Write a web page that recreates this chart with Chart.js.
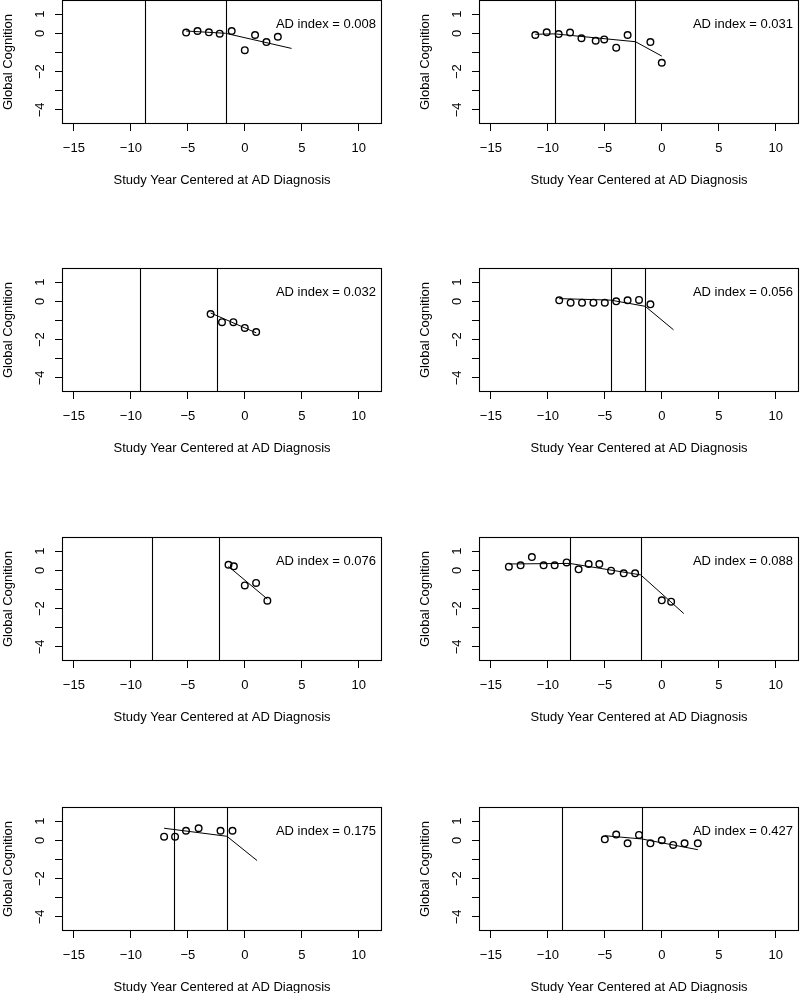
<!DOCTYPE html>
<html><head><meta charset="utf-8">
<script src="https://cdn.jsdelivr.net/npm/chart.js@4.4.1/dist/chart.umd.min.js"></script>
<style>
html,body{margin:0;padding:0;background:#fff;overflow:hidden;width:800px;height:993px;}
#wrap{position:relative;width:800px;height:993px;overflow:hidden;}
canvas{position:absolute;}
</style></head><body><div id="wrap"></div>
<script>
// ---- data ----
const xTicks = [-15, -10, -5, 0, 5, 10];
const xTickLabels = ['\u221215', '\u221210', '\u22125', '0', '5', '10'];
const yTicks = [-4, -3, -2, -1, 0, 1];
const yTickLabels = ['\u22124', '', '\u22122', '', '0', '1'];
const xTitle = 'Study Year Centered at AD Diagnosis';
const yTitle = 'Global Cognition';
const adIndex = ['0.008', '0.031', '0.032', '0.056', '0.076', '0.088', '0.175', '0.427'];

const years1 = [-5.15, -4.15, -3.15, -2.2, -1.15, 0, 0.9, 1.9, 2.9];
const cog1 = [0.04, 0.12, 0.05, -0.02, 0.12, -0.88, -0.09, -0.46, -0.18];
const change1 = [-8.8, -1.69];
const fitX1 = [-5.15, -1.69, 4.1];
const fitY1 = [0.12, 0.0, -0.79];

const years2 = [-11.1, -10.1, -9.05, -8.05, -7.05, -5.8, -5.05, -4.0, -3.0, -1.0, 0];
const cog2 = [-0.09, 0.05, -0.04, 0.04, -0.26, -0.39, -0.32, -0.75, -0.09, -0.46, -1.54];
const change2 = [-9.4, -2.31];
const fitX2 = [-11.1, -9.4, -2.31, 0];
const fitY2 = [-0.05, -0.03, -0.44, -1.19];

const years3 = [-3, -2, -1, 0, 1];
const cog3 = [-0.67, -1.09, -1.09, -1.39, -1.61];
const change3 = [-9.23, -2.42];
const fitX3 = [-3, -2.42, 1];
const fitY3 = [-0.61, -0.76, -1.65];

const years4 = [-9, -8, -7, -6, -5, -4, -3, -2, -1];
const cog4 = [0.05, -0.07, -0.07, -0.07, -0.07, 0, 0.05, 0.07, -0.16];
const change4 = [-4.48, -1.46];
const fitX4 = [-9, -4.48, -1.46, 1.03];
const fitY4 = [0.14, 0.06, -0.26, -1.49];

const years5 = [-1.43, -0.96, 0, 0.99, 1.98];
const cog5 = [0.29, 0.21, -0.79, -0.66, -1.59];
const change5 = [-8.16, -2.3];
const fitX5 = [-1.43, 1.98];
const fitY5 = [0.2, -1.5];

const years6 = [-13.42, -12.39, -11.4, -10.37, -9.4, -8.35, -7.3, -6.42, -5.48, -4.45, -3.34, -2.34, 0, 0.82];
const cog6 = [0.19, 0.26, 0.69, 0.26, 0.26, 0.41, 0.05, 0.33, 0.33, -0.02, -0.16, -0.16, -1.57, -1.64];
const change6 = [-8.09, -1.85];
const fitX6 = [-13.42, -8.09, -1.85, 1.93];
const fitY6 = [0.33, 0.36, -0.24, -2.26];

const years7 = [-7.08, -6.12, -5.16, -4.05, -2.13, -1.08];
const cog7 = [0.19, 0.19, 0.5, 0.63, 0.5, 0.5];
const change7 = [-6.23, -1.57];
const fitX7 = [-7.08, -1.57, 1.08];
const fitY7 = [0.63, 0.21, -1.06];

const years8 = [-5, -4, -3, -2, -1, 0, 1, 2, 3.16];
const cog8 = [0.05, 0.30, -0.16, 0.28, -0.16, 0, -0.24, -0.16, -0.16];
const change8 = [-8.73, -1.76];
const fitX8 = [-5, -1.76, 3.16];
const fitY8 = [0.24, 0.07, -0.49];

// ---- build ----
const panels = [
  [years1, cog1, change1, fitX1, fitY1],
  [years2, cog2, change2, fitX2, fitY2],
  [years3, cog3, change3, fitX3, fitY3],
  [years4, cog4, change4, fitX4, fitY4],
  [years5, cog5, change5, fitX5, fitY5],
  [years6, cog6, change6, fitX6, fitY6],
  [years7, cog7, change7, fitX7, fitY7],
  [years8, cog8, change8, fitX8, fitY8]
];

const FONT = {family: "'Liberation Sans', Arial, Helvetica, sans-serif", size: 13};
const boxLeft = [62, 479];
const boxTop = [0, 268, 537, 807];
const AXW = 62, AXH = 64, PADT = 2, PADR = 2, BOXW = 320, BOXH = 124;

const boxPlugin = {
  id: 'box',
  beforeDatasetsDraw(chart, args, opts) {
    const {ctx, chartArea: a, scales: {x}} = chart;
    ctx.save();
    ctx.strokeStyle = '#000';
    ctx.lineWidth = 1.1;
    (opts.cp || []).forEach(v => {
      const px = Math.round(x.getPixelForValue(v)) + 0.5;
      ctx.beginPath(); ctx.moveTo(px, a.top); ctx.lineTo(px, a.bottom); ctx.stroke();
    });
    ctx.restore();
  },
  afterDraw(chart, args, opts) {
    const {ctx, chartArea: a} = chart;
    ctx.save();
    ctx.strokeStyle = '#000';
    ctx.lineWidth = 1.1;
    ctx.strokeRect(a.left + 0.5, a.top + 0.5, a.width - 1, a.height - 1);
    ctx.fillStyle = '#000';
    ctx.font = FONT.size + 'px ' + FONT.family;
    ctx.textAlign = 'right';
    ctx.textBaseline = 'middle';
    ctx.fillText(opts.label || '', a.right - 6, a.top + 24);
    ctx.restore();
  }
};

const wrap = document.getElementById('wrap');
panels.forEach((p, i) => {
  const [yr, cg, cp, fx, fy] = p;
  const col = i % 2, row = Math.floor(i / 2);
  const W = AXW + BOXW + PADR, H = PADT + BOXH + AXH;
  const cv = document.createElement('canvas');
  cv.width = W; cv.height = H;
  cv.style.width = W + 'px'; cv.style.height = H + 'px';
  cv.style.left = (boxLeft[col] - AXW) + 'px';
  cv.style.top = (boxTop[row] - PADT) + 'px';
  wrap.appendChild(cv);
  new Chart(cv, {
    type: 'scatter',
    data: {
      datasets: [
        {type: 'line', data: fx.map((v, k) => ({x: v, y: fy[k]})), borderColor: '#000', borderWidth: 1,
         pointRadius: 0, fill: false, tension: 0, order: 2},
        {type: 'scatter', data: yr.map((v, k) => ({x: v, y: cg[k]})), pointStyle: 'circle', pointRadius: 3.3,
         borderWidth: 1.4, borderColor: '#000', backgroundColor: 'rgba(0,0,0,0)', order: 1}
      ]
    },
    options: {
      responsive: false, animation: false, devicePixelRatio: 1,
      layout: {autoPadding: false, padding: {left: 0, right: PADR, top: PADT, bottom: 0}},
      plugins: {legend: {display: false}, tooltip: {enabled: false},
        box: {cp: cp, label: 'AD index = ' + adIndex[i]}},
      scales: {
        x: {
          type: 'linear', position: 'bottom', min: -16.04, max: 12.04, bounds: 'data',
          afterBuildTicks: s => { s.ticks = xTicks.map(v => ({value: v})); },
          afterFit: s => { s.height = AXH; s.paddingLeft = 0; s.paddingRight = 0; },
          ticks: {callback: (v, k) => xTickLabels[k], font: FONT, color: '#000', padding: 10,
                  maxRotation: 0, minRotation: 0, autoSkip: false},
          grid: {display: true, drawOnChartArea: false, drawTicks: true, tickLength: 7, color: '#000', lineWidth: 1},
          border: {display: false},
          title: {display: true, text: xTitle, font: FONT, color: '#000', padding: {top: 0, bottom: 0.2}}
        },
        y: {
          type: 'linear', position: 'left', min: -4.74, max: 1.74, bounds: 'data',
          afterBuildTicks: s => { s.ticks = yTicks.map(v => ({value: v})); },
          afterFit: s => { s.width = AXW; s.paddingTop = 0; s.paddingBottom = 0; },
          ticks: {callback: (v, k) => yTickLabels[k], font: FONT, color: '#000', padding: 7.6,
                  minRotation: 90, maxRotation: 90, crossAlign: 'center', autoSkip: false},
          grid: {display: true, drawOnChartArea: false, drawTicks: true, tickLength: 7, color: '#000', lineWidth: 1},
          border: {display: false},
          title: {display: true, text: yTitle, font: FONT, color: '#000', padding: {top: 0.2, bottom: 0}}
        }
      }
    },
    plugins: [boxPlugin]
  });
});
</script>
</body></html>
